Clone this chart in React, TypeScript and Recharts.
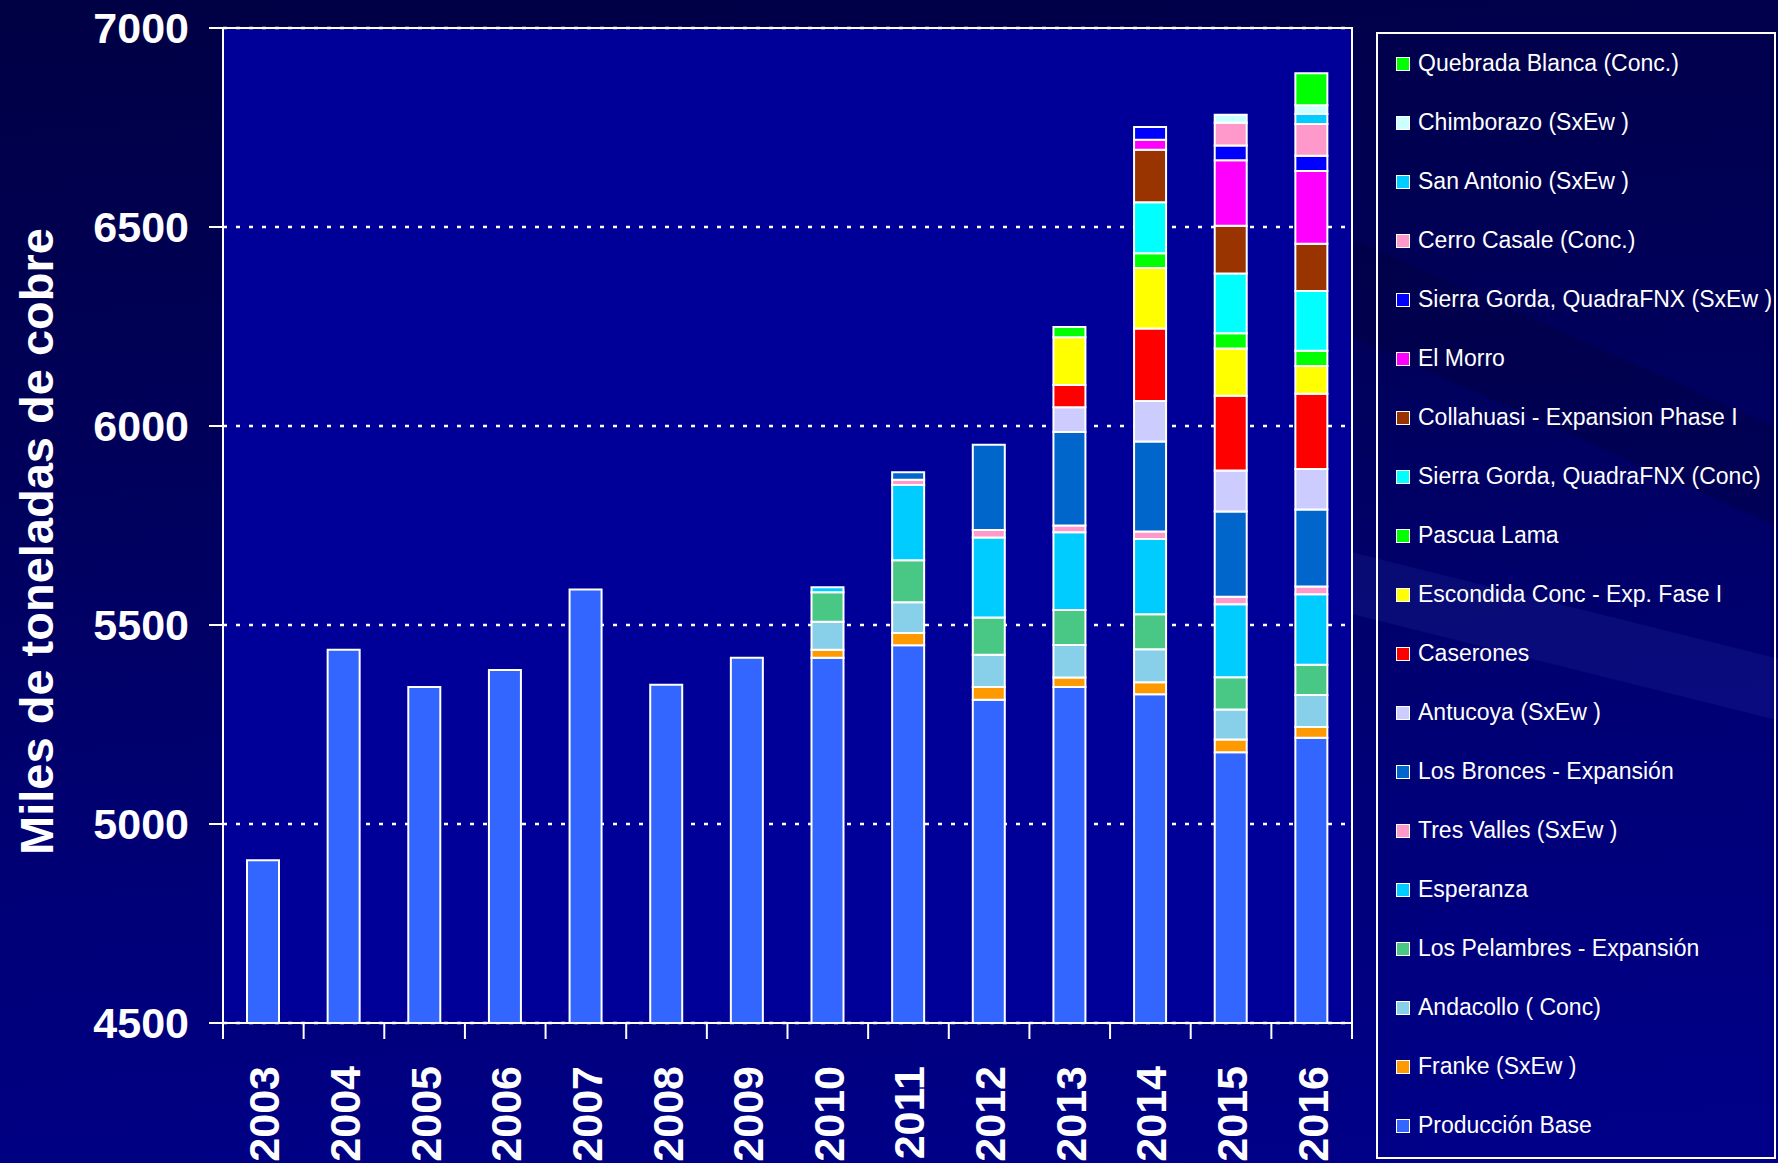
import * as React from 'react';
import { BarChart, Bar, XAxis, YAxis, CartesianGrid, ReferenceArea } from 'recharts';

const years = ['2003', '2004', '2005', '2006', '2007', '2008', '2009', '2010', '2011', '2012', '2013', '2014', '2015', '2016'];

// stacked from the bottom up, thousands of tonnes
const produccionBase = [4909, 5438, 5344, 5387, 5589, 5350, 5418, 5418, 5449, 5312, 5344, 5326, 5180, 5217];
const franke = [0, 0, 0, 0, 0, 0, 0, 20, 31, 32, 24, 30, 32, 27];
const andacollo = [0, 0, 0, 0, 0, 0, 0, 70, 77, 81, 82, 83, 76, 80];
const losPelambres = [0, 0, 0, 0, 0, 0, 0, 74, 106, 94, 88, 88, 81, 76];
const esperanza = [0, 0, 0, 0, 0, 0, 0, 13, 189, 201, 195, 189, 183, 177];
const tresValles = [0, 0, 0, 0, 0, 0, 0, 0, 13, 19, 17, 19, 19, 20];
const losBronces = [0, 0, 0, 0, 0, 0, 0, 0, 19, 214, 235, 226, 214, 193];
const antucoya = [0, 0, 0, 0, 0, 0, 0, 0, 0, 0, 62, 102, 103, 102];
const caserones = [0, 0, 0, 0, 0, 0, 0, 0, 0, 0, 56, 182, 188, 189];
const escondida = [0, 0, 0, 0, 0, 0, 0, 0, 0, 0, 120, 152, 119, 70];
const pascuaLama = [0, 0, 0, 0, 0, 0, 0, 0, 0, 0, 26, 37, 38, 38];
const sierraGordaConc = [0, 0, 0, 0, 0, 0, 0, 0, 0, 0, 0, 128, 150, 150];
const collahuasi = [0, 0, 0, 0, 0, 0, 0, 0, 0, 0, 0, 132, 120, 119];
const elMorro = [0, 0, 0, 0, 0, 0, 0, 0, 0, 0, 0, 25, 165, 183];
const sierraGordaSxEw = [0, 0, 0, 0, 0, 0, 0, 0, 0, 0, 0, 32, 37, 38];
const cerroCasale = [0, 0, 0, 0, 0, 0, 0, 0, 0, 0, 0, 0, 57, 80];
const sanAntonio = [0, 0, 0, 0, 0, 0, 0, 0, 0, 0, 0, 0, 0, 25];
const chimborazo = [0, 0, 0, 0, 0, 0, 0, 0, 0, 0, 0, 0, 20, 22];
const quebradaBlanca = [0, 0, 0, 0, 0, 0, 0, 0, 0, 0, 0, 0, 0, 80];

const yTicks = [4500, 5000, 5500, 6000, 6500, 7000];

const series = [
  { key: 'base', name: 'Producción Base', color: '#3366FF', values: produccionBase },
  { key: 'franke', name: 'Franke (SxEw )', color: '#FF9900', values: franke },
  { key: 'andacollo', name: 'Andacollo ( Conc)', color: '#88D0EA', values: andacollo },
  { key: 'pelambres', name: 'Los Pelambres - Expansión', color: '#48C884', values: losPelambres },
  { key: 'esperanza', name: 'Esperanza', color: '#00CCFF', values: esperanza },
  { key: 'tresValles', name: 'Tres Valles (SxEw )', color: '#FF99CC', values: tresValles },
  { key: 'bronces', name: 'Los Bronces - Expansión', color: '#0066CC', values: losBronces },
  { key: 'antucoya', name: 'Antucoya (SxEw )', color: '#CCCCFF', values: antucoya },
  { key: 'caserones', name: 'Caserones', color: '#FF0000', values: caserones },
  { key: 'escondida', name: 'Escondida Conc - Exp. Fase I', color: '#FFFF00', values: escondida },
  { key: 'pascua', name: 'Pascua Lama', color: '#00FF00', values: pascuaLama },
  { key: 'sgConc', name: 'Sierra Gorda, QuadraFNX (Conc)', color: '#00FFFF', values: sierraGordaConc },
  { key: 'collahuasi', name: 'Collahuasi - Expansion Phase I', color: '#993300', values: collahuasi },
  { key: 'morro', name: 'El Morro', color: '#FF00FF', values: elMorro },
  { key: 'sgSxEw', name: 'Sierra Gorda, QuadraFNX (SxEw )', color: '#0000FF', values: sierraGordaSxEw },
  { key: 'casale', name: 'Cerro Casale (Conc.)', color: '#FF99CC', values: cerroCasale },
  { key: 'sanAntonio', name: 'San Antonio (SxEw )', color: '#00CCFF', values: sanAntonio },
  { key: 'chimborazo', name: 'Chimborazo (SxEw )', color: '#CCFFFF', values: chimborazo },
  { key: 'quebrada', name: 'Quebrada Blanca (Conc.)', color: '#00FF00', values: quebradaBlanca },
];

const data = years.map((year, i) => {
  const row: Record<string, string | number> = { year };
  series.forEach((s) => { row[s.key] = s.values[i]; });
  return row;
});

const FONT = '"Liberation Sans", Arial, sans-serif';
const CHART_W = 1370;
const CHART_H = 1163;
const PLOT_LEFT = 223;
const PLOT_RIGHT = 1352;
const band = (PLOT_RIGHT - PLOT_LEFT) / years.length;

function YearTick(props: any) {
  const { x, y, payload, index } = props;
  return (
    <g>
      <line x1={x - band / 2} y1={y} x2={x - band / 2} y2={y + 16} stroke="#fff" strokeWidth={2} />
      {index === years.length - 1 && (
        <line x1={x + band / 2} y1={y} x2={x + band / 2} y2={y + 16} stroke="#fff" strokeWidth={2} />
      )}
      <text
        transform={`translate(${x + 16},${y + 43}) rotate(-90)`}
        textAnchor="end"
        fill="#fff"
        fontSize={43}
        fontWeight="bold"
        fontFamily={FONT}
      >
        {payload.value}
      </text>
    </g>
  );
}

function AxisTitle(props: any) {
  const { viewBox } = props;
  const cy = viewBox.y + viewBox.height / 2 + 16;
  return (
    <text
      transform={`translate(53,${cy}) rotate(-90)`}
      textAnchor="middle"
      fill="#fff"
      fontSize={47}
      fontWeight="bold"
      fontFamily={FONT}
    >
      Miles de toneladas de cobre
    </text>
  );
}

function Legend() {
  const items = [...series].reverse();
  return (
    <div
      style={{
        position: 'absolute',
        left: 1376,
        top: 32,
        width: 400,
        height: 1127,
        border: '2px solid #fff',
        boxSizing: 'border-box',
        fontFamily: FONT,
        fontSize: 23,
        color: '#fff',
      }}
    >
      {items.map((s) => (
        <div key={s.key} style={{ height: 59, display: 'flex', alignItems: 'center', paddingLeft: 18 }}>
          <span
            style={{
              width: 14,
              height: 14,
              background: s.color,
              border: '1px solid #fff',
              boxSizing: 'border-box',
              marginRight: 8,
              flexShrink: 0,
            }}
          />
          <span style={{ whiteSpace: 'nowrap' }}>{s.name}</span>
        </div>
      ))}
    </div>
  );
}

export default function App() {
  return (
    <div
      style={{
        position: 'relative',
        width: 1778,
        height: 1163,
        overflow: 'hidden',
        background: 'linear-gradient(175deg, #000044 0%, #00005a 35%, #000078 70%, #00008a 100%)',
      }}
    >
      <style>{'body{margin:0}'}</style>
      <div style={{ position: 'absolute', left: 1250, top: 640, width: 900, height: 60, background: 'rgba(120,140,255,0.08)', transform: 'rotate(14deg)' }} />
      <div style={{ position: 'absolute', left: 1300, top: 420, width: 900, height: 90, background: 'rgba(0,0,40,0.25)', transform: 'rotate(24deg)' }} />
      <div style={{ position: 'absolute', left: 0, top: 0 }}>
        <BarChart
          width={CHART_W}
          height={CHART_H}
          data={data}
          margin={{ top: 28, right: CHART_W - PLOT_RIGHT, bottom: 0, left: 0 }}
          barSize={32}
        >
          <CartesianGrid
            horizontal
            vertical={false}
            stroke="#fff"
            strokeWidth={2.5}
            strokeDasharray="4 9"
            fill="#000099"
            fillOpacity={1}
          />
          <XAxis
            dataKey="year"
            height={140}
            axisLine={{ stroke: '#fff', strokeWidth: 2 }}
            tickLine={false}
            tickSize={0}
            tickMargin={0}
            interval={0}
            tick={<YearTick />}
          />
          <YAxis
            width={PLOT_LEFT}
            domain={[4500, 7000]}
            ticks={yTicks}
            allowDataOverflow
            axisLine={{ stroke: '#fff', strokeWidth: 2 }}
            tickLine={{ stroke: '#fff', strokeWidth: 2 }}
            tickSize={14}
            tickMargin={20}
            tick={{ fill: '#fff', fontSize: 43, fontWeight: 'bold', fontFamily: FONT }}
            label={<AxisTitle />}
          />
          {series.map((s) => (
            <Bar
              key={s.key}
              dataKey={s.key}
              name={s.name}
              stackId="a"
              fill={s.color}
              stroke="#fff"
              strokeWidth={2}
              isAnimationActive={false}
            />
          ))}
          <ReferenceArea y1={4500} y2={7000} fill="none" stroke="#fff" strokeWidth={2} />
        </BarChart>
      </div>
      <Legend />
    </div>
  );
}
